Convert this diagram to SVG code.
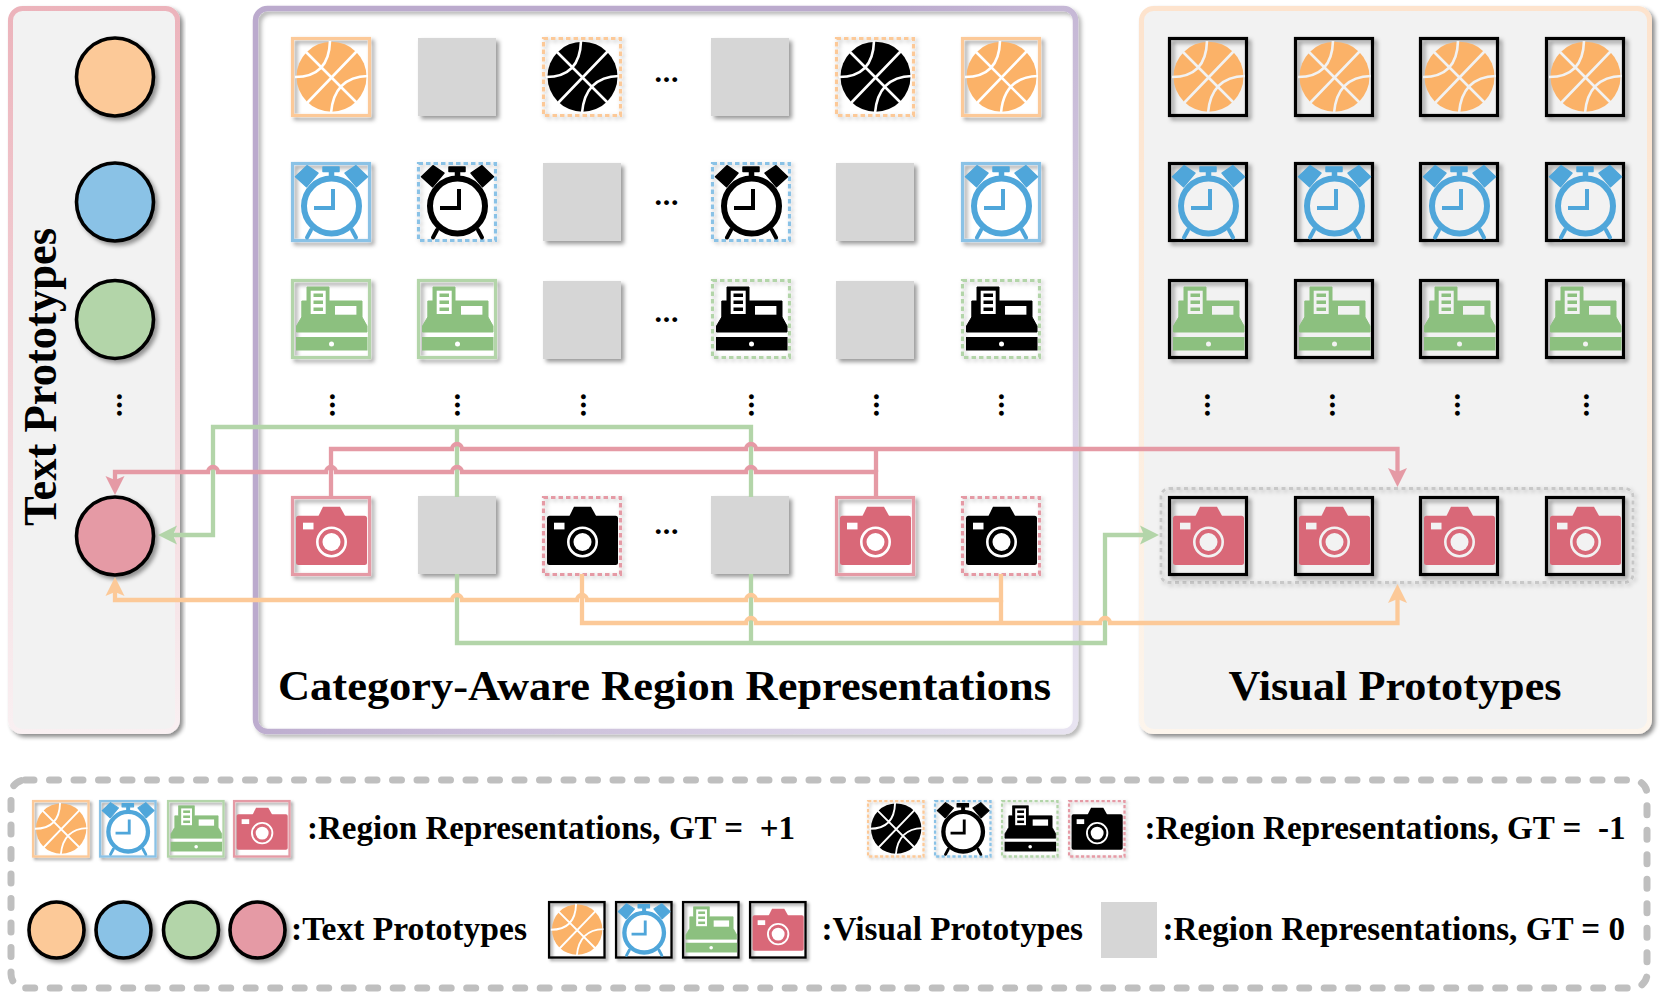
<svg xmlns="http://www.w3.org/2000/svg" width="1661" height="999" viewBox="0 0 1661 999">
<style>
.t{font-family:"Liberation Serif","Times New Roman",serif;font-weight:bold;fill:#000;white-space:pre}
.h{font-size:43px}
.l{font-size:33px}
.d{font-size:30px;letter-spacing:.8px}
.o{color:#fbb268;--b:#fcc998}
.b{color:#4fa6da;--b:#8ac2e6}
.g{color:#8cc07f;--b:#b3d5a9}
.p{color:#d96878;--b:#e59aa5}
.k{color:#000}
.pos{fill:none;stroke:var(--b);stroke-width:3.2;filter:url(#sh)}
.neg{fill:none;stroke:var(--b);stroke-width:3.2;stroke-dasharray:4.500 3;filter:url(#sh2)}
.vis{fill:none;stroke:#000;stroke-width:3.2;filter:url(#sh)}
.i{fill:currentColor}
.il{fill:none;stroke:currentColor}
.cut{fill:var(--c,#fff)}
.cl{fill:none;stroke:var(--c,#fff)}
.gray{fill:#d6d6d6;filter:url(#sh)}
.circ{stroke:#000;stroke-width:3.6;filter:url(#sh)}
.panel{filter:url(#shp)}
.w{fill:none;stroke-width:4.300;stroke-linejoin:miter}
.wg{stroke:#b3d5a9}.wp{stroke:#e59aa5}.wo{stroke:#fcc998}
</style>
<defs>
<filter id="sh" x="-30%" y="-30%" width="170%" height="170%"><feDropShadow dx="3" dy="3" stdDeviation="2" flood-color="#000" flood-opacity=".4"/></filter>
<filter id="sh2" x="-30%" y="-30%" width="170%" height="170%"><feDropShadow dx="2" dy="2" stdDeviation="2.2" flood-color="#000" flood-opacity=".25"/></filter>
<filter id="shp" x="-5%" y="-5%" width="110%" height="110%"><feDropShadow dx="3" dy="3" stdDeviation="2" flood-color="#000" flood-opacity=".45"/></filter>
<filter id="shm" x="-5%" y="-5%" width="110%" height="110%"><feDropShadow dx="3" dy="3" stdDeviation="2" flood-color="#000" flood-opacity=".3"/></filter>
<linearGradient id="gl" gradientUnits="userSpaceOnUse" x1="0" y1="6" x2="0" y2="733"><stop offset="0" stop-color="#ecb3bb"/><stop offset="1" stop-color="#f9f0f2"/></linearGradient>
<linearGradient id="gm" gradientUnits="userSpaceOnUse" x1="600" y1="300" x2="1077" y2="733"><stop offset="0" stop-color="#bbaacd"/><stop offset="1" stop-color="#e8e4f1"/></linearGradient>
<linearGradient id="gr2" gradientUnits="userSpaceOnUse" x1="0" y1="6" x2="0" y2="733"><stop offset="0" stop-color="#fde3cd"/><stop offset="1" stop-color="#fdf5ec"/></linearGradient>
<marker id="ag" markerUnits="userSpaceOnUse" markerWidth="20" markerHeight="20" refX="11" refY="10" orient="auto"><path d="M19,10 L0,.5 L4,10 L0,19.500z" fill="#b3d5a9"/></marker>
<marker id="ap" markerUnits="userSpaceOnUse" markerWidth="20" markerHeight="20" refX="11" refY="10" orient="auto"><path d="M19,10 L0,.5 L4,10 L0,19.500z" fill="#e59aa5"/></marker>
<marker id="ao" markerUnits="userSpaceOnUse" markerWidth="20" markerHeight="20" refX="11" refY="10" orient="auto"><path d="M19,10 L0,.5 L4,10 L0,19.500z" fill="#fcc998"/></marker>
<g id="ball">
<circle class="i" cx="40.500" cy="39.700" r="35"/>
<path class="cl" stroke-width="2.600" d="M14,14L67,67M16,66L66,14M39,4Q38,40 4,40M77,39Q43,40 40,76"/>
</g>
<g id="clock">
<circle class="il" cx="40.500" cy="44" r="27.500" stroke-width="6"/>
<path class="il" stroke-width="4" d="M42,27V46H23"/>
<path class="i" stroke-width="1.500" stroke="currentColor" stroke-linejoin="round" d="M4.500,14.700L16,3.700L27,11L15.500,24.700zM76.500,14.700L65,3.700L54,11L65.500,24.700zM32,5H48V9.500H42.500V15H38.500V9.500H32z"/>
<path class="il" stroke-width="4" stroke-linecap="round" d="M20,68L16,75.500M61,68L65,75.500"/>
</g>
<g id="reg">
<path class="i" stroke="currentColor" stroke-width="1" stroke-linejoin="round" d="M5.500,53V47L10.800,38V22H16V8H38V22H71V38L76,47V53z"/>
<rect class="i" x="5" y="58" width="71.500" height="13.500"/>
<circle class="cut" cx="40.500" cy="65" r="2.500"/>
<rect class="cut" x="19.700" y="11.700" width="15" height="23.300"/>
<rect class="i" x="22.500" y="14.500" width="9.500" height="3.500"/><rect class="i" x="22.500" y="21.500" width="9.500" height="3.500"/><rect class="i" x="22.500" y="28.500" width="9.500" height="3.500"/>
<rect class="cut" x="44" y="27" width="21.400" height="8.700"/>
</g>
<g id="cam">
<rect class="i" x="5" y="19.700" width="71" height="49.300" rx="2.500"/>
<path class="i" d="M27,21L32,10.700H49L54.700,21z"/>
<rect class="cut" x="12" y="26.700" width="10.500" height="6.700"/>
<circle class="cl" cx="40.500" cy="46" r="14.200" stroke-width="2.600"/>
<circle class="cut" cx="40.500" cy="46" r="9"/>
</g>
<rect id="bx" x="1.500" y="1.500" width="77" height="77"/>
<g id="pos-ball" class="o"><use href="#bx" class="pos"/><use href="#ball"/></g>
<g id="pos-clock" class="b"><use href="#bx" class="pos"/><use href="#clock"/></g>
<g id="pos-reg" class="g"><use href="#bx" class="pos"/><use href="#reg"/></g>
<g id="pos-cam" class="p"><use href="#bx" class="pos"/><use href="#cam"/></g>
<g id="neg-ball" class="o"><use href="#bx" class="neg"/><use href="#ball" class="k"/></g>
<g id="neg-clock" class="b"><use href="#bx" class="neg"/><use href="#clock" class="k"/></g>
<g id="neg-reg" class="g"><use href="#bx" class="neg"/><use href="#reg" class="k"/></g>
<g id="neg-cam" class="p"><use href="#bx" class="neg"/><use href="#cam" class="k"/></g>
<g id="vis-ball" class="o"><use href="#bx" class="vis"/><use href="#ball"/></g>
<g id="vis-clock" class="b"><use href="#bx" class="vis"/><use href="#clock"/></g>
<g id="vis-reg" class="g"><use href="#bx" class="vis"/><use href="#reg"/></g>
<g id="vis-cam" class="p"><use href="#bx" class="vis"/><use href="#cam"/></g>
<rect id="gr" class="gray" x="2" y="2" width="78" height="78"/>
</defs>

<g id="panel-text"><rect class="panel" x="10.500" y="8.500" width="167" height="723" rx="12" fill="#f2f2f2" stroke="url(#gl)" stroke-width="5"/>
<text class="t h" style="font-size:46px" transform="translate(56,526) rotate(-90)" textLength="298" lengthAdjust="spacingAndGlyphs">Text Prototypes</text></g>
<g id="panel-region"><rect x="255.500" y="8.500" width="820" height="723" rx="12" fill="#fff"/><rect x="255.500" y="8.500" width="820" height="723" rx="12" fill="none" stroke="url(#gm)" stroke-width="5.500" filter="url(#shm)"/>
<text class="t h" x="278" y="700" textLength="773" lengthAdjust="spacingAndGlyphs">Category-Aware Region Representations</text></g>
<g id="panel-visual"><rect class="panel" x="1141.500" y="8.500" width="508" height="723" rx="12" fill="#f2f2f2" stroke="url(#gr2)" stroke-width="5"/>
<text class="t h" x="1228.500" y="700" textLength="333" lengthAdjust="spacingAndGlyphs">Visual Prototypes</text></g>

<g id="text-prototypes">
<ellipse id="tp1" class="circ" cx="115" cy="77" rx="38.500" ry="39" fill="#fcc998"/>
<ellipse id="tp2" class="circ" cx="115" cy="202" rx="38.500" ry="39" fill="#8ac2e6"/>
<ellipse id="tp3" class="circ" cx="115" cy="319.500" rx="38.500" ry="39" fill="#b3d5a9"/>
<ellipse id="tp4" class="circ" cx="115" cy="536" rx="38.500" ry="39" fill="#e59aa5"/>
</g>

<g id="region-grid">
<use id="r1c1" href="#pos-ball" x="291" y="37"/><use id="r1c2" href="#gr" x="416" y="36"/><use id="r1c3" href="#neg-ball" x="542" y="37"/><use id="r1c4" href="#gr" x="709" y="36"/><use id="r1c5" href="#neg-ball" x="835" y="37"/><use id="r1c6" href="#pos-ball" x="961" y="37"/>
<use id="r2c1" href="#pos-clock" x="291" y="162"/><use id="r2c2" href="#neg-clock" x="417" y="162"/><use id="r2c3" href="#gr" x="541" y="161"/><use id="r2c4" href="#neg-clock" x="711" y="162"/><use id="r2c5" href="#gr" x="834" y="161"/><use id="r2c6" href="#pos-clock" x="961" y="162"/>
<use id="r3c1" href="#pos-reg" x="291" y="279"/><use id="r3c2" href="#pos-reg" x="417" y="279"/><use id="r3c3" href="#gr" x="541" y="279"/><use id="r3c4" href="#neg-reg" x="711" y="279"/><use id="r3c5" href="#gr" x="834" y="279"/><use id="r3c6" href="#neg-reg" x="961" y="279"/>
<use id="r5c1" href="#pos-cam" x="291" y="496"/><use id="r5c2" href="#gr" x="416" y="494"/><use id="r5c3" href="#neg-cam" x="542" y="496"/><use id="r5c4" href="#gr" x="709" y="494"/><use id="r5c5" href="#pos-cam" x="835" y="496"/><use id="r5c6" href="#neg-cam" x="961" y="496"/>
</g>

<g id="visual-grid" style="--c:#f2f2f2">
<rect id="vis-group" x="1161" y="488.500" width="472" height="94" rx="8" fill="none" stroke="#c8c8c8" stroke-width="2.800" stroke-dasharray="4 3.500" filter="url(#sh2)"/>
<use href="#vis-ball" x="1168" y="37"/><use href="#vis-ball" x="1294" y="37"/><use href="#vis-ball" x="1419" y="37"/><use href="#vis-ball" x="1545" y="37"/>
<use href="#vis-clock" x="1168" y="162"/><use href="#vis-clock" x="1294" y="162"/><use href="#vis-clock" x="1419" y="162"/><use href="#vis-clock" x="1545" y="162"/>
<use href="#vis-reg" x="1168" y="279"/><use href="#vis-reg" x="1294" y="279"/><use href="#vis-reg" x="1419" y="279"/><use href="#vis-reg" x="1545" y="279"/>
<use href="#vis-cam" x="1168" y="496"/><use href="#vis-cam" x="1294" y="496"/><use href="#vis-cam" x="1419" y="496"/><use href="#vis-cam" x="1545" y="496"/>
</g>

<g id="ellipses">
<text class="t d" x="654.500" y="82">...</text><text class="t d" x="654.500" y="205">...</text><text class="t d" x="654.500" y="322">...</text><text class="t d" x="654.500" y="534">...</text>
<text class="t d" transform="translate(116.500,393) rotate(90)">...</text>
<text class="t d" transform="translate(330,393) rotate(90)">...</text><text class="t d" transform="translate(455,393) rotate(90)">...</text><text class="t d" transform="translate(580.500,393) rotate(90)">...</text><text class="t d" transform="translate(749,393) rotate(90)">...</text><text class="t d" transform="translate(874,393) rotate(90)">...</text><text class="t d" transform="translate(999,393) rotate(90)">...</text>
<text class="t d" transform="translate(1204.800,393) rotate(90)">...</text><text class="t d" transform="translate(1330,393) rotate(90)">...</text><text class="t d" transform="translate(1454.800,393) rotate(90)">...</text><text class="t d" transform="translate(1584,393) rotate(90)">...</text>
</g>

<g id="connectors">
<path class="w wg" d="M751,497V427H213V535H166" marker-end="url(#ag)"/>
<path class="w wg" d="M457,427V497"/>
<path class="w wg" d="M457,574V643H1105V535H1151" marker-end="url(#ag)"/>
<path class="w wg" d="M751,574V643"/>
<path class="w wp" d="M331,497V449H452A5,5 0 0 1 462,449H746A5,5 0 0 1 756,449H1397.500V479" marker-end="url(#ap)"/>
<path class="w wp" d="M876,497V472H756A5,5 0 0 0 746,472H462A5,5 0 0 0 452,472H336A5,5 0 0 0 326,472H218A5,5 0 0 0 208,472H115V487" marker-end="url(#ap)"/>
<path class="w wp" d="M876,472V449"/>
<path class="w wo" d="M1001,574V600H756A5,5 0 0 0 746,600H587A5,5 0 0 0 577,600H462A5,5 0 0 0 452,600H115V585" marker-end="url(#ao)"/>
<path class="w wo" d="M582,574V623H746A5,5 0 0 1 756,623H1100A5,5 0 0 1 1110,623H1397.500V592" marker-end="url(#ao)"/>
<path class="w wo" d="M1001,600V623"/>
</g>

<g id="legend">
<rect x="11" y="780" width="1636" height="208" rx="14" fill="none" stroke="#bfbfbf" stroke-width="7" stroke-dasharray="9 15.500" stroke-linecap="round"/>
<g id="lg-pos">
<use href="#pos-ball" transform="translate(32,800) scale(.72)"/><use href="#pos-clock" transform="translate(99,800) scale(.72)"/><use href="#pos-reg" transform="translate(167,800) scale(.72)"/><use href="#pos-cam" transform="translate(233,800) scale(.72)"/>
<text class="t l" x="307" y="839" textLength="488" lengthAdjust="spacingAndGlyphs">:Region Representations, GT =  +1</text></g>
<g id="lg-neg">
<use href="#neg-ball" transform="translate(867,800) scale(.72)"/><use href="#neg-clock" transform="translate(934,800) scale(.72)"/><use href="#neg-reg" transform="translate(1001,800) scale(.72)"/><use href="#neg-cam" transform="translate(1068,800) scale(.72)"/>
<text class="t l" x="1144.500" y="839" textLength="481" lengthAdjust="spacingAndGlyphs">:Region Representations, GT =  -1</text></g>
<g id="lg-text">
<ellipse class="circ" cx="56.500" cy="930" rx="27.500" ry="28" fill="#fcc998"/><ellipse class="circ" cx="123.500" cy="930" rx="27.500" ry="28" fill="#8ac2e6"/><ellipse class="circ" cx="191" cy="930" rx="27.500" ry="28" fill="#b3d5a9"/><ellipse class="circ" cx="257.500" cy="930" rx="27.500" ry="28" fill="#e59aa5"/>
<text class="t l" x="291" y="940" textLength="236" lengthAdjust="spacingAndGlyphs">:Text Prototypes</text></g>
<g id="lg-vis">
<use href="#vis-ball" transform="translate(548,901) scale(.72)"/><use href="#vis-clock" transform="translate(615,901) scale(.72)"/><use href="#vis-reg" transform="translate(682,901) scale(.72)"/><use href="#vis-cam" transform="translate(749,901) scale(.72)"/>
<text class="t l" x="821.500" y="940" textLength="261.500" lengthAdjust="spacingAndGlyphs">:Visual Prototypes</text></g>
<g id="lg-zero">
<rect x="1101" y="902" width="56" height="56" fill="#d6d6d6"/>
<text class="t l" x="1162.500" y="940" textLength="462.500" lengthAdjust="spacingAndGlyphs">:Region Representations, GT = 0</text></g>
</g>
</svg>
